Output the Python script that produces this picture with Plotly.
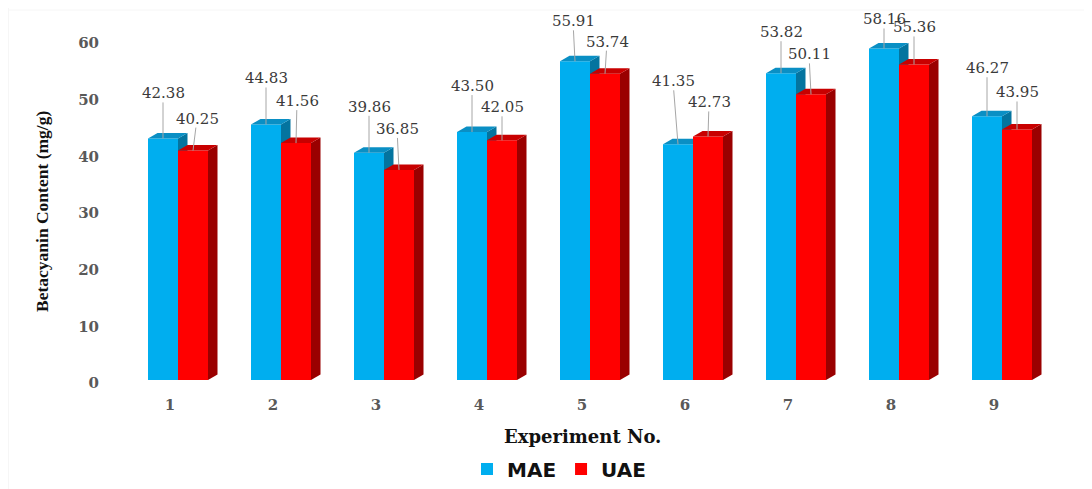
import plotly.graph_objects as go

experiments = [1, 2, 3, 4, 5, 6, 7, 8, 9]
mae_values = [42.38, 44.83, 39.86, 43.50, 55.91, 41.35, 53.82, 58.16, 46.27]
uae_values = [40.25, 41.56, 36.85, 42.05, 53.74, 42.73, 50.11, 55.36, 43.95]
y_ticks = [0, 10, 20, 30, 40, 50, 60]

# label offsets (pixels from the bar top to the label centre) - styling only
mae_label_dx = [0, 0, 0, 0, -2, -5, 0, 0, 0]
mae_label_dy = [-45, -46, -46, -46, -40, -63, -41, -29, -48]
uae_label_dx = [4, 1, -2, 0, 2, 1, -2, 0, 0]
uae_label_dy = [-32, -42, -41, -33, -32, -34, -40, -37, -37]

OFF = 8  # the page body has an 8px margin
W, H = 1092 - 2 * OFF, 481
L, R, T, B = 100 - OFF, 1060 - OFF, 10 - OFF, 394 - OFF
PX_PER_X = 103.0
X1_PX = 170.0 - OFF
Y0_BAR = 380.0 - OFF
PX_PER_Y_BAR = 5.7
Y0_TICK = 383.0 - OFF
PX_PER_Y_TICK = 5.667

x_lo = 1 + (L - X1_PX) / PX_PER_X
x_hi = 1 + (R - X1_PX) / PX_PER_X
y2_lo = -(B - Y0_BAR) / PX_PER_Y_BAR
y2_hi = (Y0_BAR - T) / PX_PER_Y_BAR
y_lo = -(B - Y0_TICK) / PX_PER_Y_TICK
y_hi = (Y0_TICK - T) / PX_PER_Y_TICK

BLUE_X0 = -22 / PX_PER_X
BLUE_W = 30 / PX_PER_X
RED_X0 = 8 / PX_PER_X
RED_W = 30 / PX_PER_X
DX = 9.5 / PX_PER_X
DY = 5.5 / PX_PER_Y_BAR

fig = go.Figure()


def add_box(values, x0, w, front, top, side, name, axis):
    fig.add_trace(go.Bar(
        x=experiments, y=values, name=name, yaxis=axis, width=w,
        offset=x0, marker=dict(color=front, line=dict(width=0))))
    for e, v in zip(experiments, values):
        xl, xr = e + x0, e + x0 + w
        fig.add_trace(go.Scatter(
            x=[xr, xr + DX, xr + DX, xr, xr], y=[0, DY, v + DY, v, 0],
            yaxis=axis, mode="lines", line=dict(width=0), fill="toself",
            fillcolor=side, showlegend=False, hoverinfo="skip"))
        fig.add_trace(go.Scatter(
            x=[xl, xl + DX, xr + DX, xr, xl], y=[v, v + DY, v + DY, v, v],
            yaxis=axis, mode="lines", line=dict(width=0), fill="toself",
            fillcolor=top, showlegend=False, hoverinfo="skip"))


add_box(mae_values, BLUE_X0, BLUE_W, "#00AEEF", "#0A8FC4", "#04749F", "MAE", "y2")
add_box(uae_values, RED_X0, RED_W, "#FF0000", "#C80000", "#9A0000", "UAE", "y3")

# keeps the tick-label axis alive
fig.add_trace(go.Scatter(x=[experiments[0]], y=[y_ticks[0]], yaxis="y", mode="markers",
                         marker=dict(opacity=0), showlegend=False, hoverinfo="skip"))

annos = []
for vals, x0, w, dxs, dys in ((mae_values, BLUE_X0, BLUE_W, mae_label_dx, mae_label_dy),
                              (uae_values, RED_X0, RED_W, uae_label_dx, uae_label_dy)):
    for e, v, dx, dy in zip(experiments, vals, dxs, dys):
        annos.append(dict(
            x=e + x0 + w / 2, y=v, xref="x", yref="y2", text=f"{v:.2f}",
            showarrow=True, arrowhead=0, arrowwidth=1, arrowcolor="#A6A6A6",
            ax=dx, ay=dy, axref="pixel", ayref="pixel",
            borderpad=0, borderwidth=0,
            font=dict(family="DejaVu Serif", size=15, color="#3A3A3A")))

annos.append(dict(
    x=(42 - OFF) / W, y=1 - (212 - OFF) / H, xref="paper", yref="paper",
    text="Betacyanin Content (mg/g)", textangle=-90, showarrow=False,
    xanchor="center", yanchor="middle",
    font=dict(family="Liberation Serif", size=17.5, color="#111111", weight="bold")))
annos.append(dict(
    x=(582.5 - OFF) / W, y=1 - (436 - OFF) / H, xref="paper", yref="paper",
    text="Experiment No.", showarrow=False, xanchor="center", yanchor="middle",
    font=dict(family="DejaVu Serif", size=18, color="#111111", weight="bold")))

fig.update_layout(
    width=W, height=H,
    autosize=False,
    margin=dict(l=0, r=0, t=0, b=0),
    paper_bgcolor="white", plot_bgcolor="rgba(0,0,0,0)",
    barmode="overlay",
    showlegend=True,
    legend=dict(orientation="h", x=(559 - OFF) / W, xanchor="center",
                y=1 - (469 - OFF) / H, yanchor="middle", traceorder="normal",
                bgcolor="rgba(0,0,0,0)",
                font=dict(family="DejaVu Sans", size=20, color="#111111", weight="bold")),
    xaxis=dict(domain=[L / W, R / W], range=[x_lo, x_hi], tickvals=experiments,
               showgrid=False, zeroline=False, showline=False, ticks="", automargin=False,
               tickfont=dict(family="DejaVu Serif", size=15, color="#595959", weight="bold")),
    yaxis=dict(domain=[1 - B / H, 1 - T / H], range=[y_lo, y_hi], tickvals=y_ticks,
               showgrid=False, zeroline=False, showline=False, ticks="", automargin=False,
               tickfont=dict(family="DejaVu Serif", size=15, color="#595959", weight="bold")),
    yaxis2=dict(domain=[1 - B / H, 1 - T / H], range=[y2_lo, y2_hi], overlaying="y", side="left", visible=False),
    yaxis3=dict(domain=[1 - B / H, 1 - T / H], range=[y2_lo, y2_hi], overlaying="y", side="left", visible=False),
    annotations=annos,
    shapes=[dict(type="line", xref="paper", yref="paper",
                 x0=0.0, x1=0.0, y0=0, y1=1.0,
                 line=dict(color="#EEEEEE", width=1)),
            dict(type="line", xref="paper", yref="paper",
                 x0=0.0, x1=1.0, y0=1 - 2 / H, y1=1 - 2 / H,
                 line=dict(color="#F6F6F6", width=1))],
)

fig.write_html("out.html", post_script="document.documentElement.style.overflow='hidden';")
